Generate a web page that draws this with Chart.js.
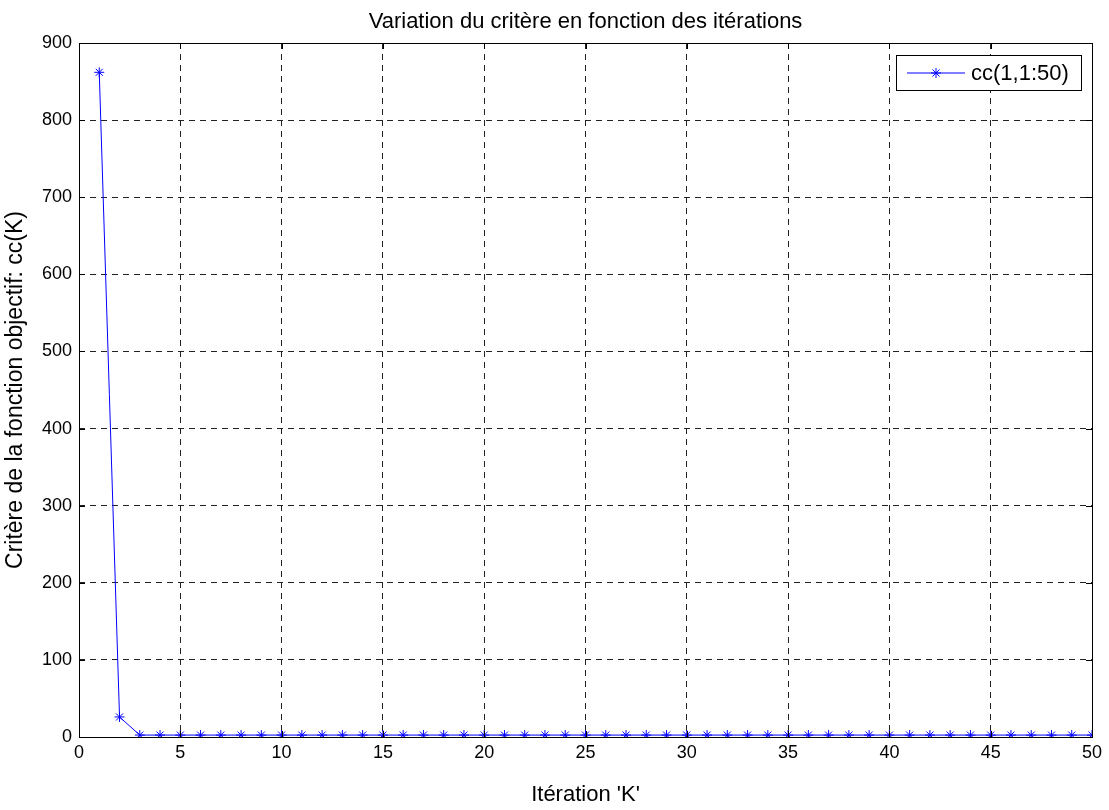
<!DOCTYPE html>
<html>
<head>
<meta charset="utf-8">
<script src="https://cdn.jsdelivr.net/npm/chart.js@4/dist/chart.umd.min.js"></script>
<style>
  body { margin: 0; background: #fff; }
  #wrap { width: 1109px; height: 810px; }
</style>
</head>
<body>
<div id="wrap"><canvas id="critChart" width="1109" height="810"></canvas></div>
<script>
var iterations = [1,2,3,4,5,6,7,8,9,10,11,12,13,14,15,16,17,18,19,20,21,22,23,24,25,
                  26,27,28,29,30,31,32,33,34,35,36,37,38,39,40,41,42,43,44,45,46,47,48,49,50];
var critere = [862, 26, 2.5, 2.5, 2.5, 2.5, 2.5, 2.5, 2.5, 2.5, 2.5, 2.5, 2.5, 2.5, 2.5, 2.5, 2.5,
               2.5, 2.5, 2.5, 2.5, 2.5, 2.5, 2.5, 2.5, 2.5, 2.5, 2.5, 2.5, 2.5, 2.5, 2.5, 2.5, 2.5,
               2.5, 2.5, 2.5, 2.5, 2.5, 2.5, 2.5, 2.5, 2.5, 2.5, 2.5, 2.5, 2.5, 2.5, 2.5, 2.5];
var seriesLabel = 'cc(1,1:50)';
var chartTitle = 'Variation du critère en fonction des itérations';
var xTitle = "Itération 'K'";
var yTitle = 'Critère de la fonction objectif: cc(K)';

var fontFam = '"Liberation Sans", Arial, Helvetica, sans-serif';

var points = iterations.map(function (k, i) { return { x: k, y: critere[i] }; });

// frame, inward ticks, title and legend, matlab style
var matlabBits = {
  id: 'matlabBits',
  afterDraw: function (chart) {
    var c = chart.ctx, a = chart.chartArea;
    var xs = chart.scales.x, ys = chart.scales.y;
    c.save();
    c.strokeStyle = '#000';
    c.lineWidth = 1;
    c.setLineDash([]);
    c.strokeRect(Math.round(a.left) + 0.5, Math.round(a.top) + 0.5,
                 Math.round(a.right - a.left), Math.round(a.bottom - a.top));
    c.beginPath();
    xs.ticks.forEach(function (t) {
      var px = Math.round(xs.getPixelForValue(t.value)) + 0.5;
      c.moveTo(px, a.bottom); c.lineTo(px, a.bottom - 6);
      c.moveTo(px, a.top); c.lineTo(px, a.top + 6);
    });
    ys.ticks.forEach(function (t) {
      var py = Math.round(ys.getPixelForValue(t.value)) + 0.5;
      c.moveTo(a.left, py); c.lineTo(a.left + 6, py);
      c.moveTo(a.right, py); c.lineTo(a.right - 6, py);
    });
    c.stroke();

    // title
    c.fillStyle = '#000';
    c.font = '22px ' + fontFam;
    c.textAlign = 'center';
    c.textBaseline = 'middle';
    c.fillText(chartTitle, (a.left + a.right) / 2, 22);

    // legend
    var lx = 896.5, ly = 55.5, lw = 185, lh = 35;
    c.fillStyle = '#fff';
    c.fillRect(lx, ly, lw, lh);
    c.strokeStyle = '#000';
    c.strokeRect(lx, ly, lw, lh);
    c.strokeStyle = '#0000ff';
    c.beginPath();
    c.moveTo(907, 73); c.lineTo(965, 73);
    c.stroke();
    Chart.helpers.drawPoint(c, { pointStyle: 'star', radius: 5, borderWidth: 1 }, 936, 73);
    c.fillStyle = '#000';
    c.font = '22px ' + fontFam;
    c.textAlign = 'left';
    c.fillText(seriesLabel, 971, 74);
    c.restore();
  }
};

var ctx = document.getElementById('critChart').getContext('2d');
var chart = new Chart(ctx, {
  type: 'line',
  data: {
    datasets: [{
      label: seriesLabel,
      data: points,
      borderColor: '#0000ff',
      backgroundColor: '#0000ff',
      borderWidth: 1,
      pointStyle: 'star',
      pointRadius: 5,
      pointBorderColor: '#0000ff',
      pointBorderWidth: 1,
      fill: false,
      tension: 0
    }]
  },
  options: {
    responsive: false,
    animation: false,
    layout: { padding: { top: 43, right: 17, left: 0, bottom: 0 } },
    plugins: {
      legend: { display: false },
      title: { display: false },
      tooltip: { enabled: false }
    },
    scales: {
      x: {
        type: 'linear',
        min: 0,
        max: 50,
        afterFit: function (s) { s.height = 73; },
        ticks: { stepSize: 5, color: '#000', padding: 5, maxRotation: 0,
                 font: { family: fontFam, size: 18 } },
        grid: { color: '#222', lineWidth: 1, drawTicks: false },
        border: { display: false, dash: [6, 5] },
        title: { display: true, text: xTitle, color: '#000',
                 font: { family: fontFam, size: 22 }, padding: { top: 0, bottom: 2 } }
      },
      y: {
        min: 0,
        max: 900,
        afterFit: function (s) { s.width = 79; },
        ticks: { stepSize: 100, color: '#000', padding: 7,
                 font: { family: fontFam, size: 18 } },
        grid: { color: '#222', lineWidth: 1, drawTicks: false },
        border: { display: false, dash: [6, 5] },
        title: { display: true, text: yTitle, color: '#000',
                 font: { family: fontFam, size: 23 }, padding: { top: 2, bottom: 0 } }
      }
    }
  },
  plugins: [matlabBits]
});
</script>
</body>
</html>
